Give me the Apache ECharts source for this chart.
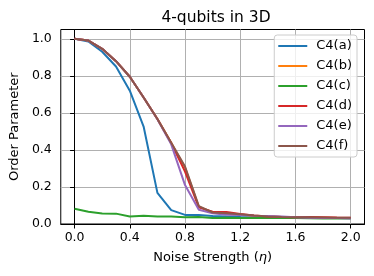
<!DOCTYPE html>
<html><head><meta charset="utf-8">
<script src="https://cdn.jsdelivr.net/npm/echarts@6/dist/echarts.min.js"></script>
<style>html,body{margin:0;padding:0;background:#fff}#c{width:374px;height:276px}</style>
</head><body><div id="c"></div>
<script>
const xs = [0,0.1,0.2,0.3,0.4,0.5,0.6,0.7,0.8,0.9,1.0,1.1,1.2,1.3,1.4,1.5,1.6,1.7,1.8,1.9,2.0];
const seriesNames = ['C4(a)','C4(b)','C4(c)','C4(d)','C4(e)','C4(f)'];
const c4a = [1.0,0.985,0.93,0.85,0.72,0.526,0.168,0.075,0.049,0.048,0.043,0.04,0.038,0.037,0.035,0.034,0.034,0.033,0.033,0.032,0.032];
const c4b = [1.0,0.99,0.946,0.879,0.795,0.683,0.567,0.438,0.305,0.093,0.062,0.057,0.051,0.045,0.041,0.038,0.036,0.035,0.034,0.033,0.033];
const c4c = [0.082,0.066,0.057,0.056,0.04,0.044,0.041,0.04,0.036,0.038,0.032,0.034,0.033,0.034,0.033,0.033,0.032,0.031,0.03,0.031,0.03];
const c4d = [1.0,0.99,0.946,0.879,0.795,0.683,0.567,0.437,0.283,0.09,0.066,0.065,0.054,0.046,0.041,0.038,0.036,0.038,0.037,0.035,0.034];
const c4e = [1.0,0.99,0.946,0.879,0.795,0.683,0.565,0.43,0.21,0.077,0.058,0.05,0.048,0.045,0.043,0.04,0.036,0.034,0.033,0.032,0.03];
const c4f = [1.0,0.99,0.946,0.879,0.795,0.683,0.567,0.438,0.31,0.097,0.062,0.058,0.052,0.046,0.041,0.038,0.036,0.036,0.035,0.034,0.034];
const xTicks = [0,0.4,0.8,1.2,1.6,2.0];
const yTicks = [0,0.2,0.4,0.6,0.8,1.0];
const colors = ['#1f77b4','#ff7f0e','#2ca02c','#d62728','#9467bd','#8c564b'];
const allSeries = [c4a,c4b,c4c,c4d,c4e,c4f];

const FONT = 'DejaVu Sans';
const chart = echarts.init(document.getElementById('c'), null, {renderer:'canvas'});
chart.setOption({
  animation:false,
  color: colors,
  title:{text:'4-qubits in 3D', left:211, top:5, textAlign:'center',
    textStyle:{fontFamily:FONT,fontSize:15.5,fontWeight:'normal',color:'#000'}},
  grid:{left:58,right:9.5,top:29.5,bottom:52,show:true,borderColor:'#000',borderWidth:1,backgroundColor:'transparent'},
  legend:{orient:'vertical', right:17, top:35, icon:'rect', itemWidth:29, itemHeight:2,
    itemGap:6, padding:[4,5,4,4], backgroundColor:'rgba(255,255,255,0.8)', borderColor:'#cccccc', borderWidth:1, borderRadius:3,
    textStyle:{fontFamily:FONT,fontSize:13,color:'#000',lineHeight:14,padding:[0,0,0,4]},
    data: seriesNames},
  xAxis:{type:'value', min:-0.1, max:2.1,
    name:'{n|Noise Strength (}{i|η}{n|)}', nameLocation:'middle', nameGap:27,
    nameTextStyle:{fontFamily:FONT,fontSize:13,color:'#000',
      rich:{n:{fontFamily:FONT,fontSize:13,color:'#000'},i:{fontFamily:FONT,fontSize:13,fontStyle:'italic',color:'#000'}}},
    axisLine:{show:true,lineStyle:{color:'#000',width:1}},
    axisTick:{show:true,inside:false,length:4.5,customValues:xTicks,lineStyle:{color:'#000'}},
    axisLabel:{customValues:xTicks,margin:7,fontFamily:FONT,fontSize:12.5,color:'#000',formatter:v=>v.toFixed(1)},
    splitLine:{show:true,lineStyle:{color:'#b0b0b0',width:1}}},
  yAxis:{type:'value', min:0, max:1.05,
    name:'Order Parameter', nameLocation:'middle', nameGap:38,
    nameTextStyle:{fontFamily:FONT,fontSize:13,color:'#000'},
    axisLine:{show:true,lineStyle:{color:'#000',width:1}},
    axisTick:{show:true,inside:false,length:4.5,customValues:yTicks,lineStyle:{color:'#000'}},
    axisLabel:{customValues:yTicks,margin:9,fontFamily:FONT,fontSize:12.5,color:'#000',formatter:v=>v.toFixed(1)},
    splitLine:{show:true,lineStyle:{color:'#b0b0b0',width:1}}},
  series: seriesNames.map((n,i)=>({
    name:n, type:'line', showSymbol:false, symbol:'none',
    lineStyle:{width:2,color:colors[i]}, itemStyle:{color:colors[i]},
    data: xs.map((x,j)=>[x, allSeries[i][j]])
  }))
});
</script></body></html>
